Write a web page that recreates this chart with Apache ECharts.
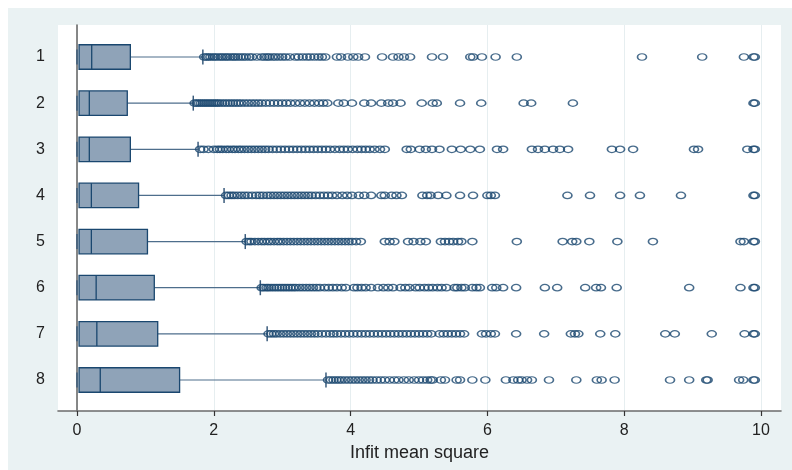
<!DOCTYPE html>
<html>
<head>
<meta charset="utf-8">
<script src="https://cdn.jsdelivr.net/npm/echarts@6/dist/echarts.min.js"></script>
<style>
  html, body { margin: 0; padding: 0; background: #ffffff; }
  #main { position: absolute; left: 8px; top: 8px; width: 784px; height: 462px; }
</style>
</head>
<body>
<div id="main"></div>
<script>
// groups on the y axis (1 at the top)
var groups = [1, 2, 3, 4, 5, 6, 7, 8];

// box statistics per group
var whiskerLow = [0, 0, 0, 0, 0, 0, 0, 0];
var q1 = [0.03, 0.03, 0.03, 0.03, 0.03, 0.03, 0.03, 0.03];
var median = [0.215, 0.18, 0.18, 0.21, 0.21, 0.28, 0.29, 0.34];
var q3 = [0.78, 0.735, 0.78, 0.9, 1.03, 1.13, 1.18, 1.5];
var whiskerHigh = [1.84, 1.7, 1.77, 2.15, 2.46, 2.68, 2.78, 3.64];

// outside values per group
var out1 = [1.86,1.89,1.92,1.95,1.99,2.02,2.06,2.1,2.13,2.17,2.2,2.24,2.28,2.31,2.35,2.39,2.43,2.47,2.52,2.56,2.63,2.7,2.74,2.78,2.81,2.86,2.9,2.95,3.0,3.05,3.11,3.19,3.24,3.3,3.36,3.41,3.47,3.53,3.58,3.63,3.8,3.86,3.96,4.04,4.11,4.21,4.46,4.62,4.7,4.78,4.87,5.19,5.35,5.75,5.79,5.92,6.12,6.43,8.26,9.14,9.75,9.89,9.91];
var out2 = [1.72,1.75,1.78,1.81,1.84,1.87,1.9,1.93,1.96,1.99,2.02,2.05,2.08,2.12,2.16,2.2,2.24,2.28,2.32,2.36,2.4,2.45,2.5,2.55,2.6,2.65,2.7,2.76,2.82,2.88,2.94,3.0,3.06,3.12,3.19,3.26,3.33,3.4,3.47,3.54,3.6,3.66,3.82,3.9,4.02,4.2,4.3,4.45,4.55,4.62,4.73,5.04,5.2,5.26,5.6,5.91,6.53,6.64,7.25,9.89,9.91];
var out3 = [1.8,1.85,1.92,2.0,2.05,2.09,2.13,2.18,2.22,2.27,2.31,2.36,2.4,2.45,2.5,2.55,2.6,2.65,2.7,2.75,2.8,2.86,2.92,2.98,3.04,3.1,3.16,3.22,3.28,3.34,3.4,3.46,3.52,3.58,3.64,3.7,3.77,3.84,3.9,3.96,4.03,4.1,4.16,4.22,4.28,4.35,4.43,4.5,4.82,4.88,5.01,5.1,5.19,5.3,5.48,5.61,5.75,5.89,6.14,6.23,6.65,6.74,6.84,6.96,7.06,7.18,7.82,7.94,8.13,9.02,9.08,9.8,9.89,9.91];
var out4 = [2.18,2.22,2.26,2.3,2.35,2.4,2.45,2.5,2.56,2.62,2.67,2.72,2.78,2.83,2.88,2.93,2.98,3.03,3.08,3.13,3.18,3.23,3.28,3.33,3.38,3.43,3.49,3.55,3.61,3.67,3.73,3.8,3.88,3.95,4.02,4.12,4.2,4.3,4.45,4.5,4.6,4.67,4.75,5.05,5.12,5.17,5.28,5.4,5.6,5.79,6.0,6.05,6.11,7.17,7.5,7.94,8.23,8.83,9.89,9.91];
var out5 = [2.48,2.52,2.55,2.6,2.65,2.7,2.74,2.79,2.83,2.88,2.93,2.97,3.02,3.07,3.12,3.17,3.22,3.27,3.32,3.37,3.42,3.47,3.52,3.57,3.62,3.67,3.72,3.77,3.82,3.87,3.92,3.97,4.02,4.08,4.15,4.5,4.57,4.64,4.84,4.92,5.02,5.1,5.32,5.38,5.44,5.5,5.57,5.62,5.78,6.43,7.1,7.24,7.3,7.49,7.9,8.42,9.7,9.75,9.89,9.91];
var out6 = [2.7,2.73,2.77,2.8,2.84,2.88,2.92,2.96,3.0,3.04,3.08,3.12,3.16,3.2,3.25,3.3,3.35,3.4,3.45,3.5,3.55,3.62,3.68,3.74,3.8,3.87,3.93,4.05,4.1,4.16,4.22,4.3,4.4,4.48,4.55,4.62,4.73,4.8,4.86,4.95,5.01,5.08,5.14,5.2,5.27,5.33,5.4,5.52,5.56,5.62,5.67,5.78,5.84,5.89,6.07,6.13,6.23,6.42,6.84,7.02,7.43,7.59,7.66,7.89,8.95,9.7,9.89,9.91];
var out7 = [2.8,2.84,2.88,2.92,2.97,3.02,3.07,3.12,3.17,3.22,3.27,3.32,3.37,3.42,3.47,3.52,3.58,3.64,3.7,3.75,3.8,3.86,3.92,3.98,4.04,4.1,4.16,4.22,4.28,4.34,4.4,4.46,4.52,4.58,4.64,4.7,4.76,4.82,4.88,4.94,5.0,5.06,5.12,5.18,5.3,5.36,5.42,5.48,5.54,5.6,5.66,5.92,5.98,6.05,6.11,6.42,6.83,7.22,7.28,7.33,7.65,7.87,8.6,8.74,9.28,9.76,9.89,9.91];
var out8 = [3.67,3.71,3.75,3.79,3.83,3.87,3.92,3.97,4.02,4.07,4.12,4.17,4.22,4.27,4.32,4.38,4.44,4.5,4.57,4.64,4.7,4.78,4.85,4.93,5.0,5.06,5.12,5.17,5.2,5.32,5.38,5.55,5.6,5.78,5.97,6.27,6.38,6.45,6.5,6.58,6.65,6.9,7.3,7.6,7.67,7.86,8.67,8.95,9.2,9.22,9.68,9.74,9.89,9.91];

var xTicks = [0, 2, 4, 6, 8, 10];

var chart = echarts.init(document.getElementById('main'));
var font = "'Liberation Sans', Arial, sans-serif";

var boxData = [];
for (var i = 0; i < groups.length; i++) {
  boxData.push([groups[i], whiskerLow[i], q1[i], median[i], q3[i], whiskerHigh[i]]);
}

var outliers = [out1, out2, out3, out4, out5, out6, out7, out8];
var outData = [];
for (var g = 0; g < outliers.length; g++) {
  for (var k = 0; k < outliers[g].length; k++) {
    outData.push([outliers[g][k], groups[g]]);
  }
}

function renderBox(params, api) {
  var y = api.value(0);
  var pLo = api.coord([api.value(1), y]);
  var pQ1 = api.coord([api.value(2), y]);
  var pMed = api.coord([api.value(3), y]);
  var pQ3 = api.coord([api.value(4), y]);
  var pHi = api.coord([api.value(5), y]);
  var h = 24.5;   // box height
  var cap = 15;   // whisker cap height
  var cy = pQ1[1];
  var navy = '#1A476F';
  return {
    type: 'group',
    children: [
      { type: 'line', shape: { x1: pQ3[0], y1: cy, x2: pHi[0], y2: cy },
        style: { stroke: '#4E6E8C', lineWidth: 1.2 } },
      { type: 'line', shape: { x1: pHi[0], y1: cy - cap / 2, x2: pHi[0], y2: cy + cap / 2 },
        style: { stroke: '#3B5C7D', lineWidth: 1.5 } },
      { type: 'line', shape: { x1: pLo[0], y1: cy - cap / 2, x2: pLo[0], y2: cy + cap / 2 },
        style: { stroke: '#3B5C7D', lineWidth: 1.5 } },
      { type: 'rect', shape: { x: pQ1[0], y: cy - h / 2, width: pQ3[0] - pQ1[0], height: h },
        style: { fill: '#8FA3B8', stroke: navy, lineWidth: 1.3 } },
      { type: 'line', shape: { x1: pMed[0], y1: cy - h / 2, x2: pMed[0], y2: cy + h / 2 },
        style: { stroke: navy, lineWidth: 1.3 } }
    ]
  };
}

var option = {
  backgroundColor: '#EAF2F3',
  animation: false,
  grid: {
    left: 50,
    right: 11,
    top: 17,
    bottom: 59,
    show: true,
    backgroundColor: '#ffffff',
    borderWidth: 0
  },
  xAxis: {
    type: 'value',
    min: -0.2778,
    max: 10.2924,
    name: 'Infit mean square',
    nameLocation: 'middle',
    nameGap: 29,
    nameTextStyle: { fontFamily: font, fontSize: 18, color: '#222222' },
    axisLine: { show: true, lineStyle: { color: '#6B6B6B', width: 1.6 } },
    axisTick: { show: true, length: 5, customValues: xTicks, lineStyle: { color: '#333333', width: 1.2 } },
    axisLabel: { customValues: xTicks, margin: 12, fontFamily: font, fontSize: 16, color: '#222222' },
    splitLine: { show: true, lineStyle: { color: '#E6EEF0', width: 1 } }
  },
  yAxis: {
    type: 'value',
    inverse: true,
    min: 0.3065,
    max: 8.6718,
    axisLine: { show: true, lineStyle: { color: '#6B6B6B', width: 1.6 } },
    axisTick: { show: false, customValues: groups },
    axisLabel: { customValues: groups, margin: 13, fontFamily: font, fontSize: 16, color: '#222222' },
    splitLine: { show: false }
  },
  series: [
    {
      type: 'custom',
      renderItem: renderBox,
      data: boxData,
      encode: { x: [1, 2, 3, 4, 5], y: 0 },
      silent: true,
      z: 2
    },
    {
      type: 'scatter',
      data: outData,
      symbol: 'circle',
      symbolSize: [9, 6.5],
      itemStyle: { color: 'rgba(0,0,0,0)', borderColor: '#1A476F', borderWidth: 1.4 },
      silent: true,
      z: 3
    }
  ]
};
option && chart.setOption(option);
</script>
</body>
</html>
